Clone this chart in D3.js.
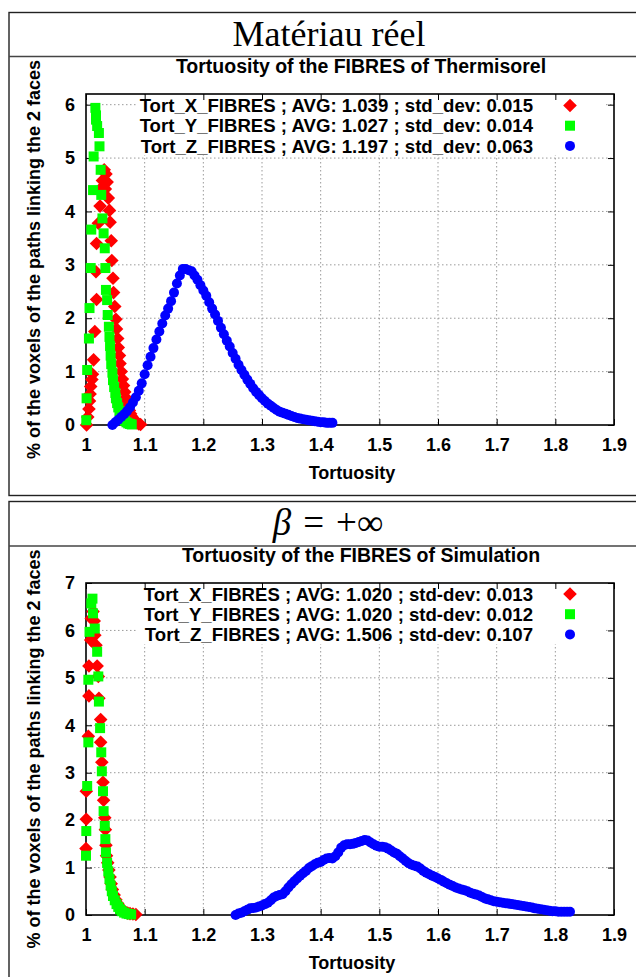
<!DOCTYPE html>
<html>
<head>
<meta charset="utf-8">
<script src="https://cdn.jsdelivr.net/npm/d3@7"></script>
<style>
html,body{margin:0;padding:0;background:#fff;}
svg{display:block;}
</style>
</head>
<body>
<svg id="chart" width="636" height="977"></svg>
<script>
// ---------- DATA ----------
const xTicks = [1, 1.1, 1.2, 1.3, 1.4, 1.5, 1.6, 1.7, 1.8, 1.9];
const topYTicks = [0, 1, 2, 3, 4, 5, 6];
const botYTicks = [0, 1, 2, 3, 4, 5, 6, 7];

const panelTitles = ["Matériau réel", "β = +∞"];
const chartTitles = ["Tortuosity of the FIBRES of Thermisorel", "Tortuosity of the FIBRES of Simulation"];
const xLabel = "Tortuosity";
const yLabel = "% of the voxels of the paths linking the 2 faces";

const topLegend = [
  "Tort_X_FIBRES ; AVG: 1.039 ; std_dev: 0.015",
  "Tort_Y_FIBRES ; AVG: 1.027 ; std_dev: 0.014",
  "Tort_Z_FIBRES ; AVG: 1.197 ; std_dev: 0.063"
];
const botLegend = [
  "Tort_X_FIBRES ; AVG: 1.020 ; std-dev: 0.013",
  "Tort_Y_FIBRES ; AVG: 1.020 ; std-dev: 0.012",
  "Tort_Z_FIBRES ; AVG: 1.506 ; std-dev: 0.107"
];

// Top chart (Thermisorel)
const topX = [[1.001,0.00],[1.003,0.15],[1.005,0.30],[1.006,0.45],[1.007,0.58],[1.008,0.72],[1.010,0.85],[1.011,0.95],[1.013,1.22],[1.015,1.75],[1.018,2.35],[1.017,2.87],[1.018,3.40],[1.021,3.78],[1.024,4.10],[1.027,4.45],[1.028,4.58],[1.031,4.78],[1.034,4.70],[1.033,4.42],[1.036,4.55],[1.038,4.25],[1.040,4.02],[1.041,3.80],[1.043,3.45],[1.044,3.08],[1.046,2.75],[1.047,2.48],[1.049,2.22],[1.051,1.98],[1.052,1.80],[1.054,1.62],[1.055,1.45],[1.057,1.30],[1.058,1.15],[1.060,1.00],[1.062,0.86],[1.064,0.74],[1.066,0.62],[1.068,0.51],[1.070,0.42],[1.072,0.34],[1.074,0.27],[1.076,0.21],[1.078,0.16],[1.080,0.12],[1.082,0.09],[1.084,0.06],[1.087,0.04],[1.090,0.02],[1.093,0.01]];
const topY = [[1.0005,0.09],[1.001,0.50],[1.002,1.03],[1.005,1.62],[1.006,2.19],[1.008,2.94],[1.009,3.66],[1.012,4.40],[1.013,5.03],[1.016,5.94],[1.017,5.80],[1.017,5.72],[1.019,5.60],[1.022,5.47],[1.023,5.22],[1.025,4.78],[1.026,4.31],[1.028,3.87],[1.030,3.59],[1.032,3.31],[1.033,2.94],[1.034,2.53],[1.036,2.34],[1.037,2.06],[1.039,1.84],[1.040,1.65],[1.041,1.48],[1.042,1.30],[1.043,1.14],[1.045,0.98],[1.046,0.84],[1.048,0.71],[1.050,0.60],[1.051,0.50],[1.053,0.41],[1.055,0.33],[1.057,0.26],[1.059,0.20],[1.061,0.15],[1.063,0.11],[1.066,0.08],[1.069,0.05],[1.072,0.03],[1.075,0.02],[1.078,0.01]];
const topZ = [[1.045,0.00],[1.050,0.05],[1.055,0.10],[1.060,0.15],[1.065,0.20],[1.070,0.26],[1.075,0.33],[1.080,0.42],[1.085,0.52],[1.090,0.64],[1.095,0.78],[1.100,0.95],[1.105,1.12],[1.110,1.28],[1.115,1.44],[1.120,1.60],[1.125,1.75],[1.130,1.90],[1.135,2.05],[1.140,2.18],[1.145,2.32],[1.150,2.48],[1.155,2.65],[1.160,2.80],[1.165,2.92],[1.170,2.92],[1.175,2.90],[1.180,2.88],[1.185,2.80],[1.190,2.72],[1.195,2.62],[1.200,2.52],[1.205,2.42],[1.210,2.30],[1.215,2.18],[1.220,2.07],[1.225,1.95],[1.230,1.82],[1.235,1.70],[1.240,1.58],[1.245,1.47],[1.250,1.35],[1.255,1.24],[1.260,1.13],[1.265,1.03],[1.270,0.94],[1.275,0.85],[1.280,0.77],[1.285,0.69],[1.290,0.62],[1.295,0.56],[1.300,0.50],[1.305,0.45],[1.310,0.40],[1.315,0.36],[1.320,0.32],[1.325,0.28],[1.330,0.25],[1.335,0.23],[1.340,0.21],[1.345,0.19],[1.350,0.17],[1.355,0.15],[1.360,0.13],[1.365,0.12],[1.370,0.11],[1.375,0.10],[1.380,0.09],[1.385,0.08],[1.390,0.07],[1.395,0.06],[1.400,0.05],[1.405,0.05],[1.410,0.04],[1.415,0.04],[1.420,0.04]];

// Bottom chart (Simulation)
const botX = [[1.000,1.40],[1.0005,2.02],[1.0005,2.61],[1.004,3.77],[1.005,4.62],[1.005,5.25],[1.008,5.80],[1.009,6.25],[1.012,6.40],[1.014,6.20],[1.015,5.90],[1.017,5.69],[1.019,5.25],[1.021,5.03],[1.022,4.57],[1.025,4.12],[1.025,3.64],[1.027,3.22],[1.029,2.80],[1.030,2.42],[1.032,2.05],[1.033,1.80],[1.034,1.47],[1.035,1.25],[1.037,1.10],[1.039,0.95],[1.041,0.80],[1.043,0.66],[1.045,0.54],[1.048,0.42],[1.051,0.32],[1.054,0.24],[1.057,0.18],[1.060,0.13],[1.063,0.09],[1.067,0.06],[1.071,0.04],[1.075,0.03],[1.080,0.02],[1.085,0.01]];
const botY = [[1.000,1.25],[1.0005,1.77],[1.002,2.72],[1.004,3.64],[1.004,4.96],[1.006,5.97],[1.009,6.57],[1.011,6.67],[1.012,6.36],[1.015,6.04],[1.019,5.55],[1.021,5.03],[1.022,4.50],[1.024,3.94],[1.026,3.43],[1.027,3.03],[1.029,2.61],[1.030,2.19],[1.032,1.88],[1.033,1.60],[1.034,1.32],[1.036,1.10],[1.038,0.92],[1.040,0.76],[1.042,0.62],[1.044,0.50],[1.046,0.40],[1.049,0.31],[1.052,0.23],[1.055,0.17],[1.058,0.12],[1.061,0.08],[1.065,0.05],[1.069,0.03],[1.073,0.02],[1.077,0.01]];
const botZ = [[1.255,0.00],[1.260,0.03],[1.265,0.05],[1.270,0.08],[1.275,0.11],[1.280,0.14],[1.285,0.15],[1.290,0.16],[1.295,0.18],[1.300,0.20],[1.305,0.23],[1.310,0.26],[1.315,0.31],[1.320,0.37],[1.325,0.40],[1.330,0.42],[1.335,0.44],[1.340,0.50],[1.345,0.58],[1.350,0.65],[1.355,0.71],[1.360,0.77],[1.365,0.83],[1.370,0.88],[1.375,0.93],[1.380,0.99],[1.385,1.03],[1.390,1.07],[1.395,1.10],[1.400,1.12],[1.405,1.16],[1.410,1.19],[1.415,1.20],[1.420,1.19],[1.425,1.24],[1.430,1.32],[1.435,1.42],[1.440,1.47],[1.445,1.49],[1.450,1.49],[1.455,1.50],[1.460,1.52],[1.465,1.54],[1.470,1.56],[1.475,1.58],[1.480,1.57],[1.485,1.53],[1.490,1.49],[1.495,1.46],[1.500,1.44],[1.505,1.44],[1.510,1.43],[1.515,1.40],[1.520,1.36],[1.525,1.32],[1.530,1.29],[1.535,1.24],[1.540,1.19],[1.545,1.14],[1.550,1.09],[1.555,1.06],[1.560,1.04],[1.565,1.02],[1.570,0.98],[1.575,0.93],[1.580,0.89],[1.585,0.86],[1.590,0.83],[1.595,0.80],[1.600,0.77],[1.605,0.74],[1.610,0.70],[1.615,0.67],[1.620,0.64],[1.625,0.61],[1.630,0.58],[1.635,0.56],[1.640,0.54],[1.645,0.52],[1.650,0.50],[1.655,0.47],[1.660,0.45],[1.665,0.43],[1.670,0.41],[1.675,0.38],[1.680,0.35],[1.685,0.33],[1.690,0.31],[1.695,0.29],[1.700,0.28],[1.705,0.27],[1.710,0.26],[1.715,0.25],[1.720,0.24],[1.725,0.23],[1.730,0.22],[1.735,0.21],[1.740,0.20],[1.745,0.19],[1.750,0.18],[1.755,0.17],[1.760,0.16],[1.765,0.14],[1.770,0.13],[1.775,0.12],[1.780,0.11],[1.785,0.10],[1.790,0.09],[1.795,0.08],[1.800,0.08],[1.805,0.07],[1.810,0.07],[1.815,0.07],[1.820,0.07],[1.825,0.07]];

const seriesColors = ["#ff0000", "#00ff00", "#0000ff"];
const seriesShapes = ["diamond", "square", "circle"];

// ---------- DRAWING ----------
const svg = d3.select("#chart");
const SANS = "'Liberation Sans', Arial, Helvetica, sans-serif";
const SERIF = "'Liberation Serif', 'Times New Roman', serif";

function shapePath(shape) {
  if (shape === "diamond") return "M0,-6.8L6.8,0L0,6.8L-6.8,0Z";
  if (shape === "square") return "M-5,-5H5V5H-5Z";
  return "M5,0A5,5 0 1,1 -5,0A5,5 0 1,1 5,0Z";
}

// Outer frames
function frame(y0, ySep, y1) {
  const g = svg.append("g");
  g.append("rect").attr("x", 9).attr("y", y0).attr("width", 700).attr("height", y1 - y0)
    .attr("fill", "none").attr("stroke", "#222").attr("stroke-width", 1.4);
  g.append("line").attr("x1", 9).attr("x2", 700).attr("y1", ySep).attr("y2", ySep)
    .attr("stroke", "#444").attr("stroke-width", 1.6);
}
frame(12.5, 56.5, 495.5);
frame(501.5, 546, 1100);

// Panel titles
svg.append("text").attr("x", 329).attr("y", 45.5).attr("text-anchor", "middle")
  .attr("font-family", SERIF).attr("font-size", 36).attr("fill", "#000").text(panelTitles[0]);
(function(){
  const t = svg.append("text").attr("x", 328).attr("y", 535).attr("text-anchor", "middle")
    .attr("font-family", SERIF).attr("font-size", 37).attr("fill", "#000");
  const parts = panelTitles[1].split(" ");
  t.append("tspan").attr("font-style", "italic").text(parts[0]);
  t.append("tspan").attr("dx", 12).text(parts[1]);
  t.append("tspan").attr("dx", 12).text(parts[2]);
})();

function drawChart(cfg) {
  const x = d3.scaleLinear().domain([1, 1.9]).range([86, 614]);
  const y = d3.scaleLinear().domain([0, cfg.ymax]).range([cfg.bottom, cfg.top]);
  const g = svg.append("g");
  const L = 86, R = 614, T = cfg.top, B = cfg.bottom;

  // grid
  const grid = g.append("g").attr("stroke", "#9a9a9a").attr("stroke-width", 1).attr("stroke-dasharray", "1.5,2.5");
  xTicks.filter(v => v > 1 && v < 1.9).forEach(v => {
    grid.append("line").attr("x1", x(v)).attr("x2", x(v)).attr("y1", T).attr("y2", B);
  });
  cfg.yTicks.filter(v => v > 0 && y(v) > T + 1).forEach(v => {
    grid.append("line").attr("x1", L).attr("x2", R).attr("y1", y(v)).attr("y2", y(v));
  });

  // legend background (opaque key)
  const legTop = T + 1, legBottom = T + 61;
  g.append("rect").attr("x", 137).attr("y", legTop).attr("width", 606 - 137).attr("height", legBottom - legTop)
    .attr("fill", "#fff");

  // axes via d3 axis (ticks inward, mirrored)
  const xAxis = g.append("g").attr("transform", `translate(0,${B})`)
    .call(d3.axisBottom(x).tickValues(xTicks).tickSizeInner(-6).tickSizeOuter(0).tickPadding(12).tickFormat(d => +d.toFixed(1) + ""));
  const xAxisTop = g.append("g").attr("transform", `translate(0,${T})`)
    .call(d3.axisTop(x).tickValues(xTicks).tickSizeInner(-6).tickSizeOuter(0).tickFormat(""));
  const yAxis = g.append("g").attr("transform", `translate(${L},0)`)
    .call(d3.axisLeft(y).tickValues(cfg.yTicks).tickSizeInner(-6).tickSizeOuter(0).tickPadding(11).tickFormat(d3.format("d")));
  const yAxisR = g.append("g").attr("transform", `translate(${R},0)`)
    .call(d3.axisRight(y).tickValues(cfg.yTicks).tickSizeInner(-6).tickSizeOuter(0).tickFormat(""));
  [xAxis, xAxisTop, yAxis, yAxisR].forEach(a => {
    a.select(".domain").remove();
    a.selectAll(".tick line").attr("stroke", "#000").attr("stroke-width", 1);
    a.selectAll("text").attr("font-family", SANS).attr("font-weight", "bold").attr("font-size", 18).attr("fill", "#000");
  });
  xAxis.selectAll("text").attr("dy", "0.71em").attr("y", 13);

  // border
  g.append("rect").attr("x", L).attr("y", T).attr("width", R - L).attr("height", B - T)
    .attr("fill", "none").attr("stroke", "#000").attr("stroke-width", 1.6);

  // series
  cfg.series.forEach((s, i) => {
    g.append("g").selectAll("path").data(s).join("path")
      .attr("d", shapePath(seriesShapes[i]))
      .attr("transform", d => `translate(${x(d[0])},${y(d[1])})`)
      .attr("fill", seriesColors[i]);
  });

  // legend
  cfg.legend.forEach((txt, i) => {
    const yy = T + cfg.legOff + i * 20.2;
    g.append("text").attr("x", 533).attr("y", yy).attr("dy", "0.36em").attr("text-anchor", "end")
      .attr("font-family", SANS).attr("font-weight", "bold").attr("font-size", 18.6).attr("fill", "#000").text(txt);
    g.append("path").attr("d", shapePath(seriesShapes[i])).attr("transform", `translate(570,${yy})`)
      .attr("fill", seriesColors[i]);
  });

  // chart title
  g.append("text").attr("x", 361).attr("y", T - 21.5).attr("text-anchor", "middle")
    .attr("font-family", SANS).attr("font-weight", "bold").attr("font-size", 19.5).attr("fill", "#000").text(cfg.title);
  // x label
  g.append("text").attr("x", 352).attr("y", B + 54).attr("text-anchor", "middle")
    .attr("font-family", SANS).attr("font-weight", "bold").attr("font-size", 18).attr("fill", "#000").text(xLabel);
  // y label
  g.append("text").attr("transform", `translate(39.5,${(T + B) / 2}) rotate(-90)`).attr("text-anchor", "middle")
    .attr("font-family", SANS).attr("font-weight", "bold").attr("font-size", 18).attr("fill", "#000").text(yLabel);
}

drawChart({ top: 94, bottom: 425, ymax: 6.2, yTicks: topYTicks, series: [topX, topY, topZ], legend: topLegend, title: chartTitles[0], legOff: 11.5 });
drawChart({ top: 583, bottom: 915, ymax: 7, yTicks: botYTicks, series: [botX, botY, botZ], legend: botLegend, title: chartTitles[1], legOff: 11 });
</script>
</body>
</html>
